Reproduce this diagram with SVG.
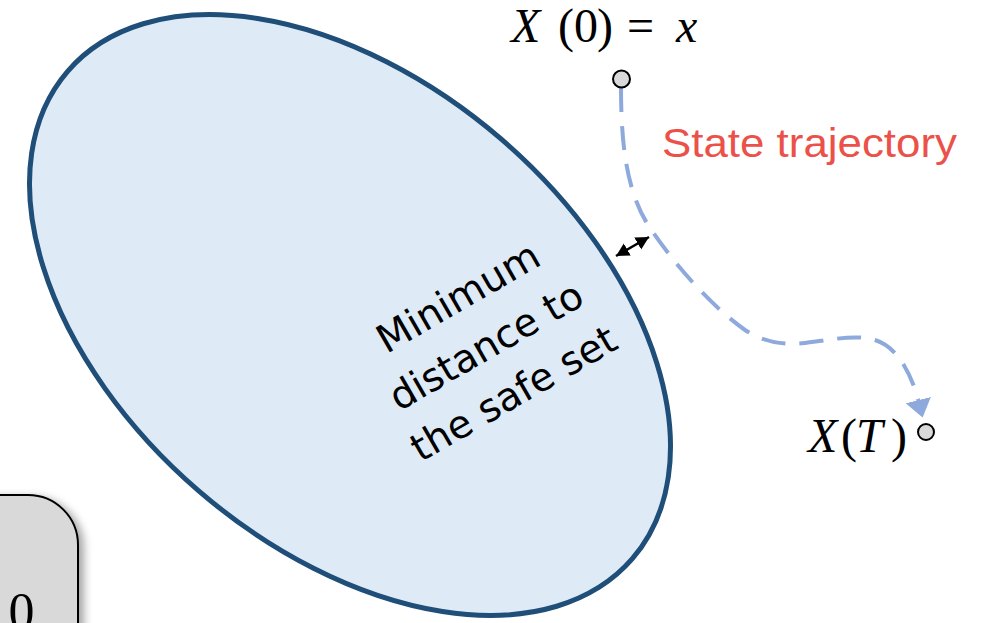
<svg xmlns="http://www.w3.org/2000/svg" width="984" height="623" viewBox="0 0 984 623">
<style>
.math{font-family:"Liberation Serif","DejaVu Serif",serif;font-size:48px;fill:#000}
.it{font-style:italic}
.lbl{font-family:"DejaVu Sans","Liberation Sans",sans-serif;font-size:39px;fill:#000}
.red{font-family:"Liberation Sans","Noto Sans",sans-serif;font-size:40px;fill:#EB5149}
.dot{fill:#D9D9D9;stroke:#000;stroke-width:2}
.traj{fill:none;stroke:#8EA9DB;stroke-width:4;stroke-dasharray:24 14}
</style>
<defs>
<marker id="blueHead" markerUnits="userSpaceOnUse" markerWidth="30" markerHeight="30" refX="3" refY="13" orient="auto">
<path d="M0,0 L18,13 L0,26 Z" fill="#8EA9DB"/>
</marker>
<marker id="blk" markerUnits="userSpaceOnUse" markerWidth="20" markerHeight="20" refX="13" refY="7" orient="auto-start-reverse">
<path d="M0,0 L13,7 L0,14 Z" fill="#000"/>
</marker>
<filter id="sh" x="-20%" y="-20%" width="150%" height="150%">
<feDropShadow dx="5" dy="3" stdDeviation="4" flood-color="#000" flood-opacity="0.35"/>
</filter>
</defs>

<g id="box">
<rect x="-120" y="495" width="198" height="220" rx="50" ry="50" fill="#D9D9D9" stroke="#000" stroke-width="2" filter="url(#sh)"/>
<text class="math" style="font-size:52px" x="21.5" y="629" text-anchor="middle">0</text>
</g>

<g id="safe-set">
<ellipse cx="350" cy="315" rx="373" ry="232" transform="rotate(40.8 350 315)" fill="#DEEBF7" stroke="#1F4E79" stroke-width="5"/>
<g transform="rotate(-30)">
<text class="lbl" x="248" y="500" text-anchor="middle">Minimum</text>
<text class="lbl" x="248" y="556" text-anchor="middle">distance to</text>
<text class="lbl" x="248" y="611" text-anchor="middle">the safe set</text>
</g>
</g>

<g id="connectors">
<path class="traj" d="M621,88 C621,150 628,195 650,228 C675,265 710,305 745,330 C765,343 785,345 805,343 C830,340 855,334 875,340 C898,347 912,375 919,403" marker-end="url(#blueHead)"/>
<line x1="616" y1="256" x2="649" y2="237" stroke="#000" stroke-width="2.5" marker-start="url(#blk)" marker-end="url(#blk)"/>
</g>

<g id="start">
<circle class="dot" cx="621.5" cy="79" r="8.5"/>
<text class="math" y="42"><tspan class="it" x="511">X</tspan><tspan x="558">(</tspan><tspan x="574">0</tspan><tspan x="597">)</tspan><tspan x="627">=</tspan><tspan class="it" x="676">x</tspan></text>
</g>

<g id="end">
<circle class="dot" cx="926" cy="432" r="8"/>
<text class="math" y="452"><tspan class="it" x="808">X</tspan><tspan x="841">(</tspan><tspan class="it" x="856">T</tspan><tspan x="891">)</tspan></text>
</g>

<g id="label">
<text class="red" x="662" y="157" textLength="295" lengthAdjust="spacingAndGlyphs">State trajectory</text>
</g>
</svg>
